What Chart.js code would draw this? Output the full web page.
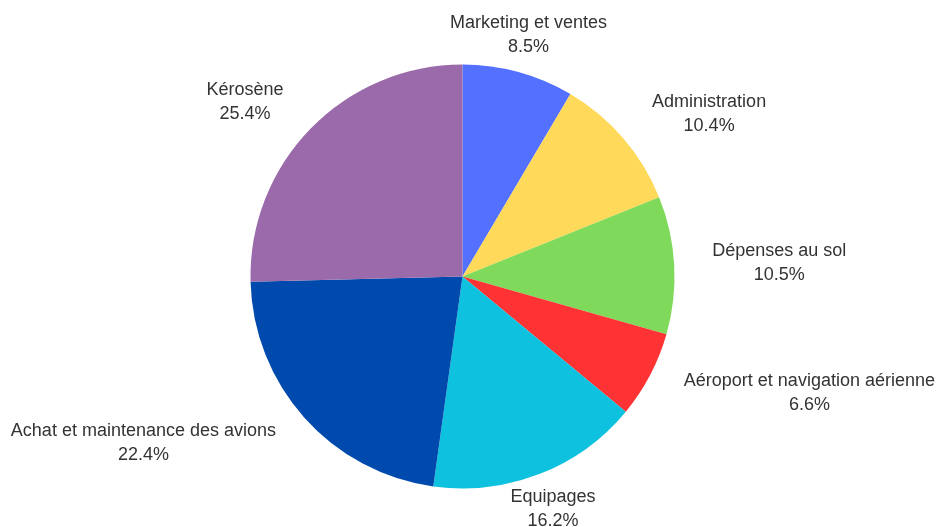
<!DOCTYPE html>
<html>
<head>
<meta charset="utf-8">
<script src="https://cdn.jsdelivr.net/npm/chart.js@4/dist/chart.umd.min.js"></script>
<style>
  html, body { margin: 0; padding: 0; background: #fff; }
  #wrap { width: 936px; height: 527px; position: relative; }
</style>
</head>
<body>
<div id="wrap"><canvas id="costs"></canvas></div>
<script>
const labels = ['Marketing et ventes', 'Administration', 'Dépenses au sol', 'Aéroport et navigation aérienne', 'Equipages', 'Achat et maintenance des avions', 'Kérosène'];
const shares = [8.5, 10.4, 10.5, 6.6, 16.2, 22.4, 25.4];
const colors = ['#5470ff', '#ffd95a', '#7fd95a', '#ff3333', '#0dc1df', '#004aad', '#9a6aaa'];

// two-line label (name + percent) outside each slice
const outsideLabels = {
  id: 'outsideLabels',
  afterDraw(chart) {
    const ctx = chart.ctx;
    const meta = chart.getDatasetMeta(0);
    ctx.save();
    ctx.font = '18px "Liberation Sans", Arial, sans-serif';
    ctx.fillStyle = '#333';
    ctx.textBaseline = 'middle';
    meta.data.forEach((arc, i) => {
      const p = arc.getProps(['x', 'y', 'startAngle', 'endAngle', 'outerRadius'], true);
      const a = (p.startAngle + p.endAngle) / 2;
      const r = p.outerRadius + 38;
      const x = p.x + Math.cos(a) * r;
      const y = p.y + Math.sin(a) * r;
      const c = Math.cos(a);
      ctx.textAlign = Math.abs(c) < 0.45 ? 'center' : (c > 0 ? 'left' : 'right');
      const name = labels[i];
      const pct = shares[i].toFixed(1) + '%';
      if (ctx.textAlign === 'center') {
        ctx.fillText(name, x, y - 12);
        ctx.fillText(pct, x, y + 12);
      } else {
        // percent line is centred under the name
        const w = ctx.measureText(name).width;
        const mid = ctx.textAlign === 'left' ? x + w / 2 : x - w / 2;
        ctx.fillText(name, x, y - 12);
        ctx.textAlign = 'center';
        ctx.fillText(pct, mid, y + 12);
      }
    });
    ctx.restore();
  }
};

new Chart(document.getElementById('costs'), {
  type: 'pie',
  data: {
    labels: labels,
    datasets: [{
      data: shares,
      backgroundColor: colors,
      borderWidth: 0
    }]
  },
  options: {
    responsive: true,
    maintainAspectRatio: false,
    animation: false,
    layout: { padding: { top: 64.5, bottom: 38.5, left: 0, right: 11 } },
    plugins: {
      legend: { display: false },
      tooltip: { enabled: false }
    }
  },
  plugins: [outsideLabels]
});
</script>
</body>
</html>
